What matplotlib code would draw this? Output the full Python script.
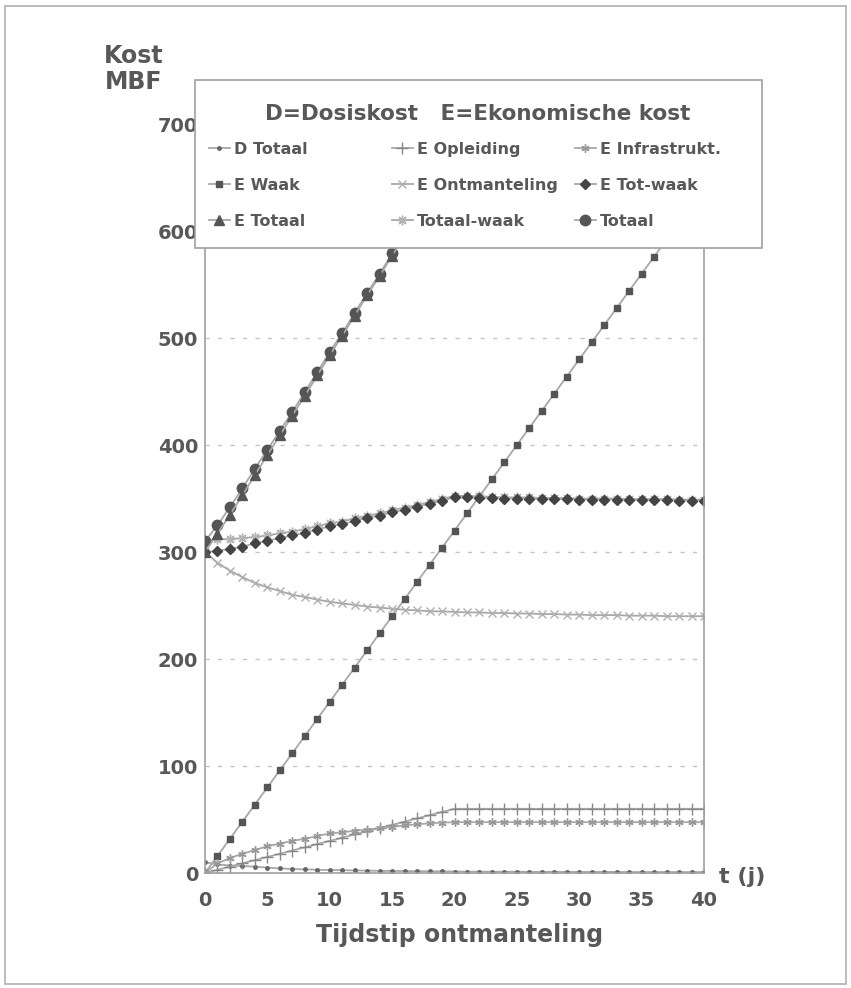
import matplotlib
matplotlib.use('Agg')
import matplotlib.pyplot as plt
from matplotlib.patches import Rectangle

# jaren na stopzetting
t = list(range(41))

d_totaal = [10, 8, 7, 6.5, 6, 5, 4.3, 3.7, 3.4, 3, 2.8, 2.6, 2.4, 2.2, 2, 1.9, 1.8, 1.7, 1.6, 1.5,
            1.4, 1.3, 1.3, 1.2, 1.2, 1.2, 1.1, 1.1, 1.1, 1, 1, 1, 1, 1, 0.9, 0.9, 0.9, 0.9, 0.9, 0.9, 0.9]
e_opleiding = [0, 3, 6, 9, 12, 15, 18, 21, 24, 27, 30, 33, 36, 39, 42, 45, 48, 51, 54, 57,
               60, 60, 60, 60, 60, 60, 60, 60, 60, 60, 60, 60, 60, 60, 60, 60, 60, 60, 60, 60, 60]
e_infra = [0, 9, 14, 18, 21.5, 25, 27.5, 30, 32, 34.5, 37, 38, 39.5, 40.5, 42, 43, 44.5, 45.5, 46.5, 47,
           47.5, 47.5, 47.5, 47.5, 47.5, 47.5, 47.5, 47.5, 47.5, 47.5, 47.5, 47.5, 47.5, 47.5, 47.5,
           47.5, 47.5, 47.5, 47.5, 47.5, 47.5]
e_waak = [0, 16, 32, 48, 64, 80, 96, 112, 128, 144, 160, 176, 192, 208, 224, 240, 256, 272, 288, 304,
          320, 336, 352, 368, 384, 400, 416, 432, 448, 464, 480, 496, 512, 528, 544, 560, 576, 592,
          608, 624, 640]
e_ontm = [300, 290, 282.5, 276.5, 271, 267, 263.5, 260, 258, 255.5, 253.5, 252, 250.5, 249, 248, 247,
          246, 245.5, 244.5, 244.5, 244, 243.5, 243.5, 243, 243, 242.5, 242.5, 242, 242, 241.5, 241.5,
          241, 241, 241, 240.5, 240.5, 240.5, 240, 240, 240, 240]
e_totwaak = [300, 301, 303, 305, 308, 310.5, 313, 315.5, 318, 321, 324, 326, 329, 332, 334, 337, 339.5,
             342.5, 345, 348, 351, 351, 350.5, 350.5, 350, 350, 350, 349.5, 349.5, 349.5, 349, 349, 349,
             349, 348.5, 348.5, 348.5, 348.5, 348, 348, 348]
e_totaal = [300, 317, 335, 353, 372, 390.5, 409, 427.5, 446, 465, 484, 502, 521, 540, 558, 577, 595.5,
            614.5, 633, 652, 671, 687, 702.5, 718.5, 734, 750, 766, 781.5, 797.5, 813.5, 829, 845, 861,
            877, 892.5, 908.5, 924.5, 940.5, 956, 972, 988]
totaal_waak = [310, 312, 312, 313, 314, 315.5, 317.5, 319, 321.5, 324, 327, 328.5, 331.5, 334, 336, 339,
               341.5, 344, 346.5, 349.5, 352.5, 352.5, 352, 351.5, 351, 351, 351, 350.5, 350.5, 350.5,
               350, 350, 350, 350, 349.5, 349.5, 349.5, 349.5, 349, 349, 349]
totaal = [310, 325, 342, 359.5, 378, 395.5, 413.3, 431, 449.5, 468, 487, 504.5, 523.5, 542, 560, 579,
          597, 616, 634.5, 653.5, 672.5, 688, 704, 720, 735, 751, 767, 782.5, 798.5, 814.5, 830, 846,
          862, 878, 893.5, 909.5, 925.5, 941.5, 957, 973, 989]

txt = '#585858'
lijn = '#a8a8a8'
plt.rcParams['font.family'] = ['DejaVu Sans']
plt.rcParams['font.weight'] = 'bold'

W, H = 851, 988
fig = plt.figure(figsize=[W / 100, H / 100], dpi=100)
ax = fig.add_axes([205 / W, 1 - 873 / H, 499 / W, 749 / H])

kw = dict(color=lijn, lw=1.3)
h_d, = ax.plot(t, d_totaal, marker='.', ms=5, mfc='#666', mec='#666', **kw)
h_w, = ax.plot(t, e_waak, marker='s', ms=4.5, mfc='#555', mec='#555', **kw)
h_et, = ax.plot(t, e_totaal, marker='^', ms=6.5, mfc='#555', mec='#555', zorder=4, **kw)
h_o, = ax.plot(t, e_opleiding, marker='+', ms=9, mec='#888', mew=1.0, **kw)
h_on, = ax.plot(t, e_ontm, marker='x', ms=5.5, mec='#b0b0b0', mew=1.0, **kw)
h_tw, = ax.plot(t, totaal_waak, marker=(8, 2, 0), ms=7, mec='#b4b4b4', mew=1.0, **kw)
h_i, = ax.plot(t, e_infra, marker=(6, 2, 0), ms=6, mec='#999', mew=1.0, **kw)
h_etw, = ax.plot(t, e_totwaak, marker='D', ms=4.8, mfc='#444', mec='#444', **kw)
h_t, = ax.plot(t, totaal, marker='o', ms=7.5, mfc='#555', mec='#555', zorder=3.5, **kw)

ax.set_xlim(0, 40)
ax.set_ylim(0, 700)
ax.set_xticks(range(0, 41, 5))
ax.set_yticks(range(0, 701, 100))
ax.tick_params(length=0, labelsize=14, colors=txt)
ax.tick_params(axis='x', pad=13)
ax.tick_params(axis='y', pad=5)
ax.yaxis.grid(True, color='#c4c4c4', ls=(0, (3, 6)), lw=1.0)
for s in ax.spines.values():
    s.set_color('#a0a0a0')
    s.set_linewidth(1.2)

ax.text(1.076, -0.006, 't (j)', transform=ax.transAxes, ha='center', va='center',
        fontsize=16, color=txt)
fig.text(134 / W, 1 - 69 / H, 'Kost\nMBF', ha='center', va='center', fontsize=17,
         color=txt, linespacing=1.15)
fig.text(460 / W, 1 - 935 / H, 'Tijdstip ontmanteling', ha='center', va='center', fontsize=17,
         color=txt)

# legenda: kader, titel en drie kolommen
fig.patches.append(Rectangle((194.5 / W, 1 - 248 / H), 567.5 / W, 168 / H, transform=fig.transFigure,
                             facecolor='white', edgecolor='#a0a0a0', lw=1.2, zorder=6))
fig.text(478 / W, 1 - 114 / H, 'D=Dosiskost   E=Ekonomische kost', ha='center', va='center',
         fontsize=15.5, color=txt, zorder=8)
kolommen = [([h_d, h_w, h_et], ['D Totaal', 'E Waak', 'E Totaal'], 209),
            ([h_o, h_on, h_tw], ['E Opleiding', 'E Ontmanteling', 'Totaal-waak'], 392),
            ([h_i, h_etw, h_t], ['E Infrastrukt.', 'E Tot-waak', 'Totaal'], 575)]
for hs, labs, x0 in kolommen:
    leg = fig.legend(hs, labs, loc='upper left', bbox_to_anchor=(x0 / W, 1 - 142 / H),
                     fontsize=11.5, handlelength=1.3, handletextpad=0.25, labelspacing=1.3,
                     borderpad=0, borderaxespad=0, frameon=False, numpoints=1)
    for tx in leg.get_texts():
        tx.set_color(txt)
    leg.set_zorder(7)

fig.patches.append(Rectangle((0.006, 0.004), 0.988, 0.99, transform=fig.transFigure,
                             fill=False, edgecolor='#b0b0b0', lw=1.2))

fig.savefig('out.png', dpi=100)
